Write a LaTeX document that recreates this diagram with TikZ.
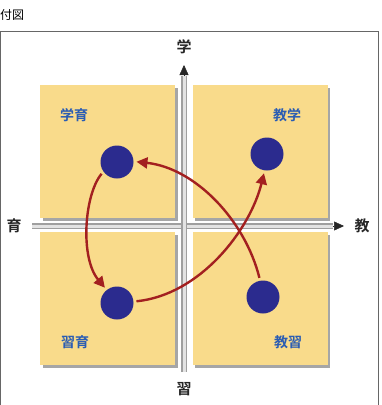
\documentclass[tikz,border=0pt]{standalone}
\usepackage{fontspec}
\newfontfamily\jp{Noto Sans CJK JP}
\newfontfamily\jpb{Noto Sans CJK JP Bold}
\usetikzlibrary{arrows.meta,shadows}
\definecolor{boxfill}{HTML}{F9DB8B}
\definecolor{dotblue}{HTML}{2B2B8E}
\definecolor{arrred}{HTML}{A32020}
\definecolor{lblblue}{HTML}{2B5DB3}
\tikzset{
  quad/.style={rectangle, fill=boxfill, minimum width=135pt, minimum height=133pt, inner sep=0pt,
    drop shadow={shadow xshift=2.5pt, shadow yshift=-2.5pt, fill=gray!70, opacity=1}},
  dot/.style={circle, fill=dotblue, minimum size=33pt, inner sep=0pt, outer sep=0pt},
  qlabel/.style={font=\jpb\fontsize{14}{14}\selectfont, text=lblblue, inner sep=0pt},
  axlabel/.style={font=\jpb\fontsize{15}{15}\selectfont, text=black!85, inner sep=0pt},
  axisline/.style={draw=gray!75, double=gray!22, double distance=3pt, line width=1.1pt},
  axtip/.style={-{Triangle[length=10pt,width=9pt]}, black!85, line width=0.5pt},
  flow/.style={arrred, line width=2.4pt, -{Triangle[length=11pt,width=11pt]}, shorten >=3pt, shorten <=3pt}
}
\begin{document}
\begin{tikzpicture}[x=1pt,y=-1pt]
\useasboundingbox (0,0) rectangle (382,405);
\begin{scope}
\clip (0,0) rectangle (382,405);
\draw[gray!80!black, line width=0.8pt] (0.4,31) rectangle (378,420);
\end{scope}
\node[anchor=west, font=\jp\fontsize{12}{12}\selectfont, inner sep=0pt] (title) at (0,15) {付図};
% quadrants
\node[quad] (qtl) at (107.5,151.5) {};
\node[quad] (qtr) at (260,151.5) {};
\node[quad] (qbl) at (107.5,298.5) {};
\node[quad] (qbr) at (260,298.5) {};
% axes
\coordinate (ybot) at (184,372);
\coordinate (ytopl) at (184,76);
\coordinate (ytop) at (184,65);
\coordinate (xleft) at (32,226);
\coordinate (xrightl) at (333,226);
\coordinate (xright) at (344,226);
\draw[axisline] (xleft) -- (xrightl);
\draw[axisline] (ybot) -- (ytopl);
\draw[axtip] (ytopl) -- (ytop);
\draw[axtip] (xrightl) -- (xright);
\node[axlabel] (lgaku) at (184,47) {学};
\node[axlabel] (liku) at (14,226) {育};
\node[axlabel] (lkyo) at (362,226) {教};
\node[axlabel] (lshu) at (184,389) {習};
% quadrant labels
\node[qlabel] (t1) at (74,115) {学育};
\node[qlabel] (t2) at (287,115) {教学};
\node[qlabel] (t3) at (75,342) {習育};
\node[qlabel] (t4) at (288,342) {教習};
% dots
\node[dot] (dtl) at (117,162) {};
\node[dot] (dtr) at (267,154) {};
\node[dot] (dbl) at (117,303) {};
\node[dot] (dbr) at (263,297) {};
% flows
\draw[flow] (dtl.215) .. controls (84,195) and (80,258) .. (dbl.128);
\draw[flow] (dbl.5) .. controls (200,295) and (250,230) .. (dtr.262);
\draw[flow] (dbr.100) .. controls (245,220) and (195,168) .. (dtl.2);
\end{tikzpicture}
\end{document}
